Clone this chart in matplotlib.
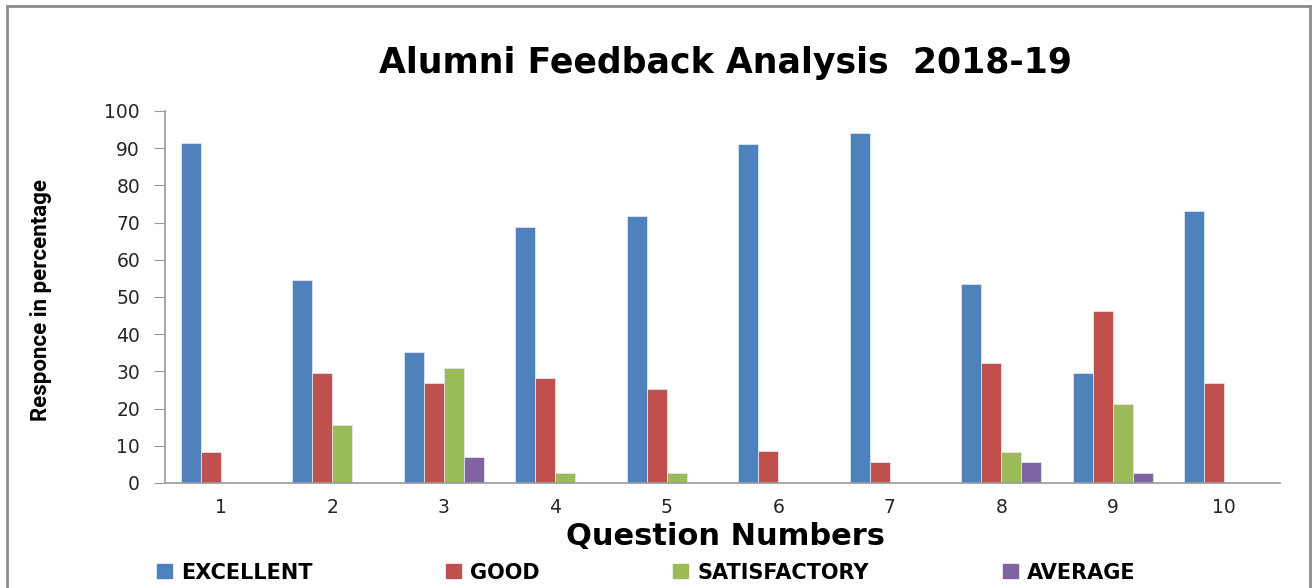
import matplotlib
matplotlib.use("Agg")
import matplotlib.pyplot as plt
import numpy as np
from matplotlib.lines import Line2D

# Values (percent)
questions    = ["1", "2", "3", "4", "5", "6", "7", "8", "9", "10"]
excellent    = [91.4, 54.6, 35.2, 68.8, 71.8, 91.1, 94.1, 53.5, 29.6, 73.1]
good         = [8.3, 29.6, 26.9, 28.2, 25.3, 8.6, 5.6, 32.3, 46.2, 26.9]
satisfactory = [0, 15.6, 30.9, 2.7, 2.7, 0, 0, 8.3, 21.2, 0]
average      = [0, 0, 7.0, 0, 0, 0, 0, 5.6, 2.7, 0]

series = ["EXCELLENT", "GOOD", "SATISFACTORY", "AVERAGE"]
colors = ["#4F81BD", "#C0504D", "#9BBB59", "#8064A2"]

fig = plt.figure(figsize=(13.15, 5.88), dpi=100)
ax = fig.add_axes([0.1255, 0.1786, 0.8479, 0.6327])

x = np.arange(len(questions))
width = 0.18
data = [excellent, good, satisfactory, average]
for i, (vals, name, col) in enumerate(zip(data, series, colors)):
    offs = (i - 1.5) * width
    ax.bar(x + offs, vals, width, color=col, edgecolor="#dde6f0",
           linewidth=0.6, label=name)

ax.set_xlim(-0.5, len(questions) - 0.5)
ax.set_ylim(0, 100)
ax.set_yticks(range(0, 101, 10))
ax.set_xticks(x)
ax.set_xticklabels(questions)

for s in ["top", "right"]:
    ax.spines[s].set_visible(False)
for s in ["left", "bottom"]:
    ax.spines[s].set_color("#999999")
    ax.spines[s].set_linewidth(1.2)

ax.tick_params(axis="y", direction="out", length=8, color="#999999",
               labelsize=13.5, labelcolor="#262626", pad=10)
ax.tick_params(axis="x", length=0, labelsize=13.5, labelcolor="#262626", pad=11)

fig.text(0.5515, 0.893, "Alumni Feedback Analysis  2018-19", ha="center",
         va="center", fontsize=25, fontweight="bold", family="DejaVu Sans")
fig.text(0.552, 0.087, "Question Numbers", ha="center", va="center",
         fontsize=22, fontweight="bold", family="DejaVu Sans")
fig.text(0.031, 0.49, "Responce in percentage", rotation=90, ha="center",
         va="center", fontsize=16, fontweight="bold",
         family=["Roboto", "DejaVu Sans"])

handles = [plt.Rectangle((0, 0), 1, 1, color=c) for c in colors]
leg = fig.legend(handles, series, loc="center left",
                 bbox_to_anchor=(0.105, 0.026), ncol=4, frameon=False,
                 handlelength=0.72, handleheight=0.65, handletextpad=0.45,
                 columnspacing=6.4,
                 prop={"family": "DejaVu Sans", "weight": "bold", "size": 15})

# outer chart border (bottom edge runs off the image)
bw, bc = 2.0, "#8c8c8c"
fig.add_artist(Line2D([0.0055, 0.0055], [0.0, 0.989], transform=fig.transFigure,
                      color=bc, lw=bw))
fig.add_artist(Line2D([0.996, 0.996], [0.0, 0.989], transform=fig.transFigure,
                      color=bc, lw=bw))
fig.add_artist(Line2D([0.0055, 0.996], [0.989, 0.989], transform=fig.transFigure,
                      color=bc, lw=bw))

fig.savefig("out.png", dpi=100)
